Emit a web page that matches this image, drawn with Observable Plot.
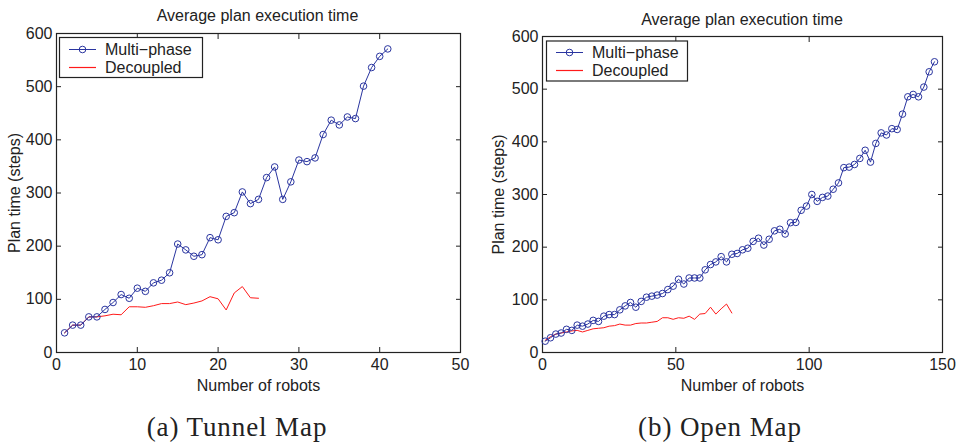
<!DOCTYPE html>
<html><head><meta charset="utf-8">
<script src="https://cdn.jsdelivr.net/npm/d3@7"></script>
<script src="https://cdn.jsdelivr.net/npm/@observablehq/plot@0.6"></script>
<style>
html,body{margin:0;padding:0;background:#fff;}
#wrap{position:relative;width:958px;height:446px;overflow:hidden;}
#wrap > svg{position:absolute;top:0;}
</style></head><body><div id="wrap"></div>
<script>
// ---- data ----
const tunnelX = [1,2,3,4,5,6,7,8,9,10,11,12,13,14,15,16,17,18,19,20,21,22,23,24,25,26,27,28,29,30,31,32,33,34,35,36,37,38,39,40,41];
const tunnelMulti = [37,51.5,51.5,67,67,81,94,109,102,121,115,131,136,150,204,193,181,184,216,212,256,263,302,280,288,329,349,288,321,362,359,366,410,437,428,443,440,501,536,557,571];
const tunnelDecX = [1,2,3,4,5,6,7,8,9,10,11,12,13,14,15,16,17,18,19,20,21,22,23,24,25];
const tunnelDec = [37,51.5,51.5,67,67,69,72,71,86,86,85,88,92,92,95,90,93,97,105,101,80,112,124,103,102];

const openX = [1,3,5,7,9,11,13,15,17,19,21,23,25,27,29,31,33,35,37,39,41,43,45,47,49,51,53,55,57,59,61,63,65,67,69,71,73,75,77,79,81,83,85,87,89,91,93,95,97,99,101,103,105,107,109,111,113,115,117,119,121,123,125,127,129,131,133,135,137,139,141,143,145,147];
const openMulti = [21.5,28,35,37,44,42,52,50,54,61,59,69,72,72,81,88.5,95,86,97,105,107,109,112,119.5,126,139,130,141.5,141.5,141.5,157,167,172,182,172,186.5,188,195,198,211,217,204,215,231,234,225,246.5,247,270,278,300,287,294.5,297,310,322,351,352,357,368.5,384,361.5,397,417,413,425,423.5,452.6,485.5,490,485.5,504,533,552];
const openDecX = [1,3,5,7,9,11,13,15,17,19,21,23,25,27,29,31,33,35,37,39,41,43,45,47,49,51,53,55,57,59,61,63,65,67,69,71];
const openDec = [23,30,35,37,39,41,42,39,42,45,46,47,50,51,54,52,52,55,56,56,57.5,59,66,66,63,66,65,69,63,73,74,86,73,83,92,75];

const yTicks = [0,100,200,300,400,500,600];
const tunnelXTicks = [0,10,20,30,40,50];
const openXTicks = [0,50,100,150];

const title = "Average plan execution time";
const xLabel = "Number of robots";
const yLabel = "Plan time (steps)";
const seriesNames = ["Multi\u2212phase","Decoupled"];
const captions = ["(a)  Tunnel Map","(b)  Open Map"];

const BLUE = "#2a35a0", RED = "#ff1a1a", INK = "#222";
const FONT = "'Liberation Sans', Arial, Helvetica, sans-serif";

function panel(o){
  const m = o.xs.map((x,i)=>({x, y:o.multi[i]}));
  const d = o.decX.map((x,i)=>({x, y:o.dec[i]}));
  return Plot.plot({
    width:o.width, height:o.height,
    marginLeft:o.ml, marginRight:o.mr, marginTop:o.mt, marginBottom:o.mb,
    style:{fontFamily:FONT, fontSize:"16px", color:INK, background:"white", overflow:"visible"},
    x:{domain:o.xDomain},
    y:{domain:[0,600]},
    marks:[
      Plot.frame({stroke:INK, strokeWidth:1.2}),
      Plot.axisX({anchor:"bottom", ticks:o.xTicks, tickSize:-5, tickPadding:11, tickFormat:d=>String(d), label:xLabel, labelAnchor:"center", labelOffset:38, labelArrow:"none"}),
      Plot.axisX({anchor:"top", ticks:o.xTicks, tickSize:-5, tickFormat:()=>"", label:null}),
      Plot.axisY({anchor:"left", ticks:yTicks, tickSize:-5, tickPadding:9, tickFormat:d=>String(d), label:yLabel, labelAnchor:"center", labelOffset:o.ylo, labelArrow:"none"}),
      Plot.axisY({anchor:"right", ticks:yTicks, tickSize:-5, tickFormat:()=>"", label:null}),
      Plot.line(d, {x:"x", y:"y", stroke:RED, strokeWidth:1}),
      Plot.line(m, {x:"x", y:"y", stroke:BLUE, strokeWidth:1}),
      Plot.dot(m, {x:"x", y:"y", r:3.3, stroke:BLUE, strokeWidth:1, fill:"none"})
    ]
  });
}

const wrap = document.getElementById("wrap");
const left = panel({xs:tunnelX, multi:tunnelMulti, decX:tunnelDecX, dec:tunnelDec, xDomain:[0,50], xTicks:tunnelXTicks,
  width:478, height:400, ml:56, mr:18, mt:33, mb:48, ylo:48});
left.style.left = "0px";
wrap.appendChild(left);
const right = panel({xs:openX, multi:openMulti, decX:openDecX, dec:openDec, xDomain:[0,150], xTicks:openXTicks,
  width:478, height:400, ml:62, mr:16, mt:36, mb:48, ylo:50});
right.style.left = "480px";
wrap.appendChild(right);

// overlay: titles, legends, captions
const ov = d3.select(wrap).append("svg").attr("width",958).attr("height",446).style("left","0px")
  .style("pointer-events","none").attr("font-family",FONT);
[[257.5,20.5],[742,24.5]].forEach(([cx,by])=>{
  ov.append("text").attr("x",cx).attr("y",by).attr("text-anchor","middle").attr("font-size",16).attr("fill",INK).text(title);
});
const legends = [{x:59.5,y:37.5,w:143,h:40,r1:49.5,r2:67.5},{x:546.5,y:41,w:141,h:40,r1:52.5,r2:70.5}];
legends.forEach(L=>{
  const g = ov.append("g");
  g.append("rect").attr("x",L.x).attr("y",L.y).attr("width",L.w).attr("height",L.h).attr("fill","white").attr("stroke",INK).attr("stroke-width",1.2);
  const lx = L.x+9.5, lw = 27;
  g.append("line").attr("x1",lx).attr("x2",lx+lw).attr("y1",L.r1).attr("y2",L.r1).attr("stroke",BLUE);
  g.append("circle").attr("cx",lx+lw/2).attr("cy",L.r1).attr("r",3.3).attr("fill","none").attr("stroke",BLUE);
  g.append("line").attr("x1",lx).attr("x2",lx+lw).attr("y1",L.r2).attr("y2",L.r2).attr("stroke",RED).attr("stroke-width",1.2);
  g.append("text").attr("x",L.x+45.5).attr("y",L.r1+5.5).attr("font-size",16).attr("fill",INK).text(seriesNames[0]);
  g.append("text").attr("x",L.x+45.5).attr("y",L.r2+5.5).attr("font-size",16).attr("fill",INK).text(seriesNames[1]);
});
[[237,captions[0]],[720,captions[1]]].forEach(([cx,t])=>{
  ov.append("text").attr("x",cx).attr("y",436).attr("text-anchor","middle").attr("font-size",27)
    .attr("font-family","'Liberation Serif','DejaVu Serif',serif").attr("letter-spacing","0.9").attr("fill",INK).text(t);
});
</script></body></html>
